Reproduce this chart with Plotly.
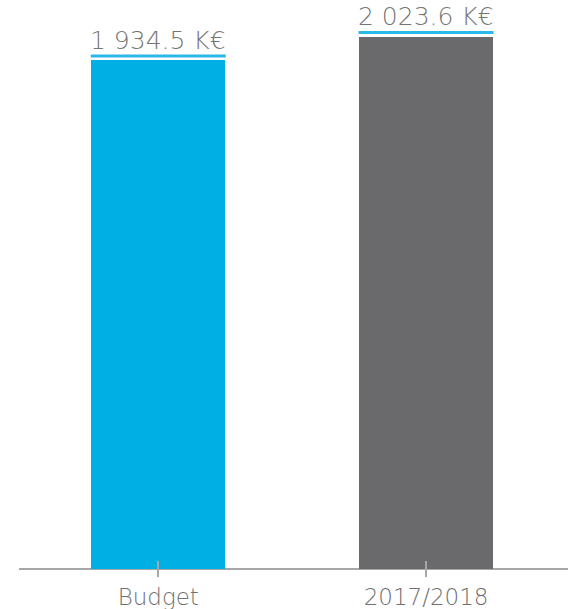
import plotly.graph_objects as go

categories = ["Budget", "2017/2018"]
values = [1934.5, 2023.6]
value_labels = ["1 934.5 K€", "2 023.6 K€"]
bar_colors = ["#00b0e4", "#6a6a6c"]

FONT = "DejaVu Sans, sans-serif"

fig = go.Figure()
fig.add_trace(go.Bar(
    x=list(range(len(categories))), y=values,
    marker_color=bar_colors, marker_line_width=0, width=0.5,
    hoverinfo="skip",
))

for i, (v, lab) in enumerate(zip(values, value_labels)):
    # light blue underline just above each bar
    fig.add_shape(
        type="rect", xref="x", yref="y", ysizemode="pixel", yanchor=v,
        x0=i - 0.252, x1=i + 0.252, y0=3, y1=6,
        fillcolor="#2ab8e8", line_width=0, layer="above",
    )
    fig.add_annotation(
        x=i, y=v, text=lab, showarrow=False, yanchor="middle", yshift=20,
        font=dict(family=FONT, size=25, color="#767676", weight=200),
    )

fig.update_layout(
    width=568, height=609,
    margin=dict(l=19, r=0, t=0, b=32),
    plot_bgcolor="white", paper_bgcolor="white",
    showlegend=False,
    bargap=0,
)
fig.update_xaxes(
    range=[-0.52, 1.53],
    tickmode="array", tickvals=list(range(len(categories))), ticktext=categories,
    ticks="inside", ticklen=16, tickwidth=2, tickcolor="#a7a7a7",
    ticklabelstandoff=4,
    showline=False, showgrid=False, zeroline=False,
    tickfont=dict(family=FONT, size=23, color="#707070", weight=200),
)
fig.update_yaxes(
    range=[-30.4, 2164.3],
    showticklabels=False, showgrid=False, ticks="",
    zeroline=True, zerolinecolor="#a7a7a7", zerolinewidth=2,
)

# the page body has a default 8px margin; drop it so the chart fills the window
fig.write_html("out.html", config={"displayModeBar": False},
               post_script="document.body.style.margin='0';")
